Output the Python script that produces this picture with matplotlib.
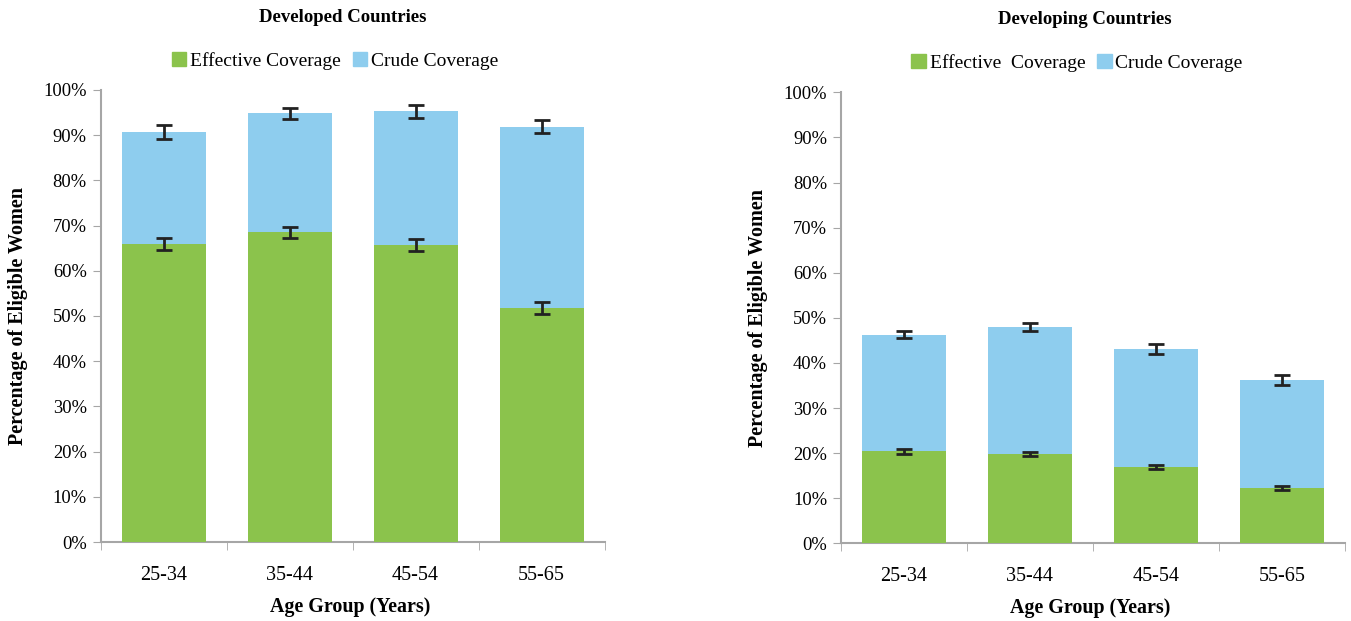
import numpy as np
import matplotlib
matplotlib.use("Agg")
import matplotlib.pyplot as plt
from matplotlib.patches import Patch

plt.rcParams['font.family'] = ['Liberation Serif', 'DejaVu Serif']

age_groups = ["25-34", "35-44", "45-54", "55-65"]

# developed countries (% of eligible women)
dev_crude = [90.7, 94.8, 95.3, 91.9]
dev_crude_err = [1.5, 1.3, 1.4, 1.5]
dev_effective = [65.9, 68.5, 65.7, 51.8]
dev_effective_err = [1.3, 1.2, 1.3, 1.4]

# developing countries
dvg_crude = [46.3, 47.9, 43.1, 36.2]
dvg_crude_err = [0.8, 0.9, 1.1, 1.2]
dvg_effective = [20.4, 19.8, 16.9, 12.3]
dvg_effective_err = [0.5, 0.5, 0.5, 0.5]

green = '#8bc34c'
blue = '#8ecdee'
axis_grey = '#a6a6a6'
err_col = '#222222'

fig = plt.figure(figsize=(13.51, 6.21), dpi=100)
fig.patch.set_facecolor('white')

ax1 = fig.add_axes([0.0745, 0.1272, 0.373, 0.7279])
ax2 = fig.add_axes([0.6225, 0.1251, 0.373, 0.7262])


def draw_panel(ax, crude, crude_err, eff, eff_err):
    x = np.arange(len(age_groups))
    w = 0.667
    ax.bar(x, crude, w, color=blue, zorder=2)
    ax.bar(x, eff, w, color=green, zorder=3)
    ekw = dict(fmt='none', ecolor=err_col, elinewidth=2, capsize=5.5, capthick=2, zorder=4)
    ax.errorbar(x, crude, yerr=crude_err, **ekw)
    ax.errorbar(x, eff, yerr=eff_err, **ekw)

    ax.set_xlim(-0.5, len(age_groups) - 0.5)
    ax.set_ylim(0, 100)
    ax.set_yticks(np.arange(0, 101, 10))
    ax.set_yticklabels([f"{v}%" for v in range(0, 101, 10)], fontsize=13.3)
    ax.set_xticks(x)
    ax.set_xticklabels(age_groups, fontsize=14.5)
    ax.set_xticks(np.arange(-0.5, len(age_groups), 1), minor=True)
    ax.tick_params(axis='x', which='major', length=0, pad=17)
    ax.tick_params(axis='x', which='minor', length=6, color=axis_grey, direction='out')
    ax.tick_params(axis='y', length=6, color=axis_grey, pad=4)
    for s in ['top', 'right']:
        ax.spines[s].set_visible(False)
    for s in ['left', 'bottom']:
        ax.spines[s].set_color(axis_grey)
        ax.spines[s].set_linewidth(1.5)


draw_panel(ax1, dev_crude, dev_crude_err, dev_effective, dev_effective_err)
draw_panel(ax2, dvg_crude, dvg_crude_err, dvg_effective, dvg_effective_err)

# titles, legends, axis labels
W, H = 1351.0, 621.0
fig.text(343 / W, 1 - 17 / H, "Developed Countries", ha='center', va='center',
         fontsize=13.5, fontweight='bold')
fig.text(1085 / W, 1 - 19 / H, "Developing Countries", ha='center', va='center',
         fontsize=13.5, fontweight='bold')

handles = [Patch(color=green), Patch(color=blue)]
fig.legend(handles, ["Effective Coverage", "Crude Coverage"], loc='center',
           bbox_to_anchor=(335 / W, 1 - 61 / H), ncol=2, frameon=False, fontsize=14,
           handlelength=0.75, handleheight=0.75, handletextpad=0.2, columnspacing=0.6)
fig.legend(handles, ["Effective  Coverage", "Crude Coverage"], loc='center',
           bbox_to_anchor=(1077 / W, 1 - 63 / H), ncol=2, frameon=False, fontsize=14,
           handlelength=0.75, handleheight=0.75, handletextpad=0.2, columnspacing=0.6)

fig.text(18 / W, 1 - 316 / H, "Percentage of Eligible Women", rotation=90,
         ha='center', va='center', fontsize=14.5, fontweight='bold')
fig.text(758 / W, 1 - 318 / H, "Percentage of Eligible Women", rotation=90,
         ha='center', va='center', fontsize=14.5, fontweight='bold')
fig.text(350 / W, 1 - 607 / H, "Age Group (Years)", ha='center', va='center',
         fontsize=14.4, fontweight='bold')
fig.text(1090 / W, 1 - 608 / H, "Age Group (Years)", ha='center', va='center',
         fontsize=14.4, fontweight='bold')

fig.savefig("out.png", dpi=100, facecolor='white')
